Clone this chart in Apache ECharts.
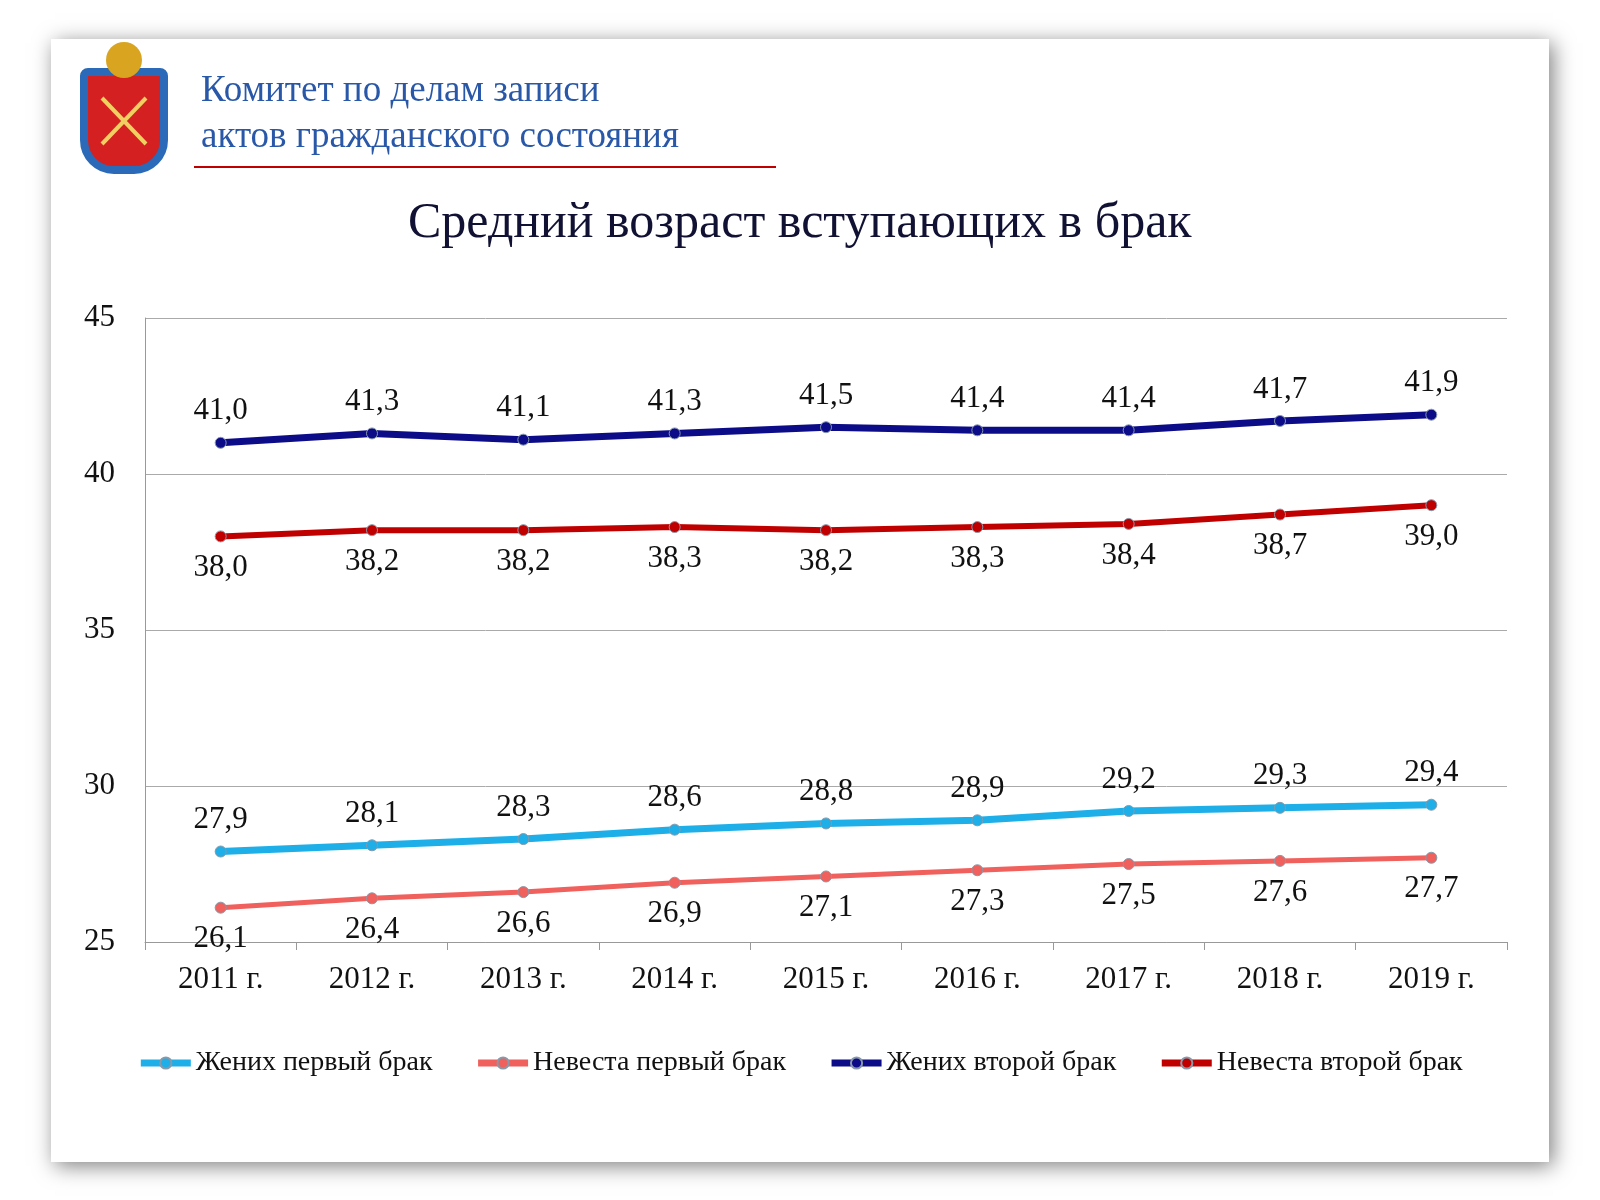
<!DOCTYPE html>
<html><head><meta charset="utf-8">
<script src="https://cdn.jsdelivr.net/npm/echarts@6/dist/echarts.min.js"></script>
<style>body{margin:0;background:#fff}#c{width:1600px;height:1200px}</style>
</head><body><div id="c"></div>
<script>
var years = ['2011 г.', '2012 г.', '2013 г.', '2014 г.', '2015 г.', '2016 г.', '2017 г.', '2018 г.', '2019 г.'];
var groom1 = [27.9, 28.1, 28.3, 28.6, 28.8, 28.9, 29.2, 29.3, 29.4];
var bride1 = [26.1, 26.4, 26.6, 26.9, 27.1, 27.3, 27.5, 27.6, 27.7];
var groom2 = [41.0, 41.3, 41.1, 41.3, 41.5, 41.4, 41.4, 41.7, 41.9];
var bride2 = [38.0, 38.2, 38.2, 38.3, 38.2, 38.3, 38.4, 38.7, 39.0];
var names = ['Жених первый брак', 'Невеста первый брак', 'Жених второй брак', 'Невеста второй брак'];

var serif = 'Liberation Serif';
function fmt(p) { return p.value.toFixed(1).replace('.', ','); }
function line(name, data, color, pos, width) {
	return {
		name: name, type: 'line', data: data, symbol: 'circle', symbolSize: 11,
		lineStyle: { color: color, width: width },
		itemStyle: { color: color, borderColor: '#8899aa', borderWidth: 1 },
		label: { show: true, position: pos, distance: 10, formatter: fmt,
			fontFamily: serif, fontSize: 31, color: '#111' }
	};
}

var myChart = echarts.init(document.getElementById('c'));
option = {
	animation: false,
	graphic: [
		{ type: 'rect', shape: { x: 51, y: 39, width: 1498, height: 1123 },
			style: { fill: '#fff', shadowBlur: 20, shadowColor: 'rgba(0,0,0,0.5)', shadowOffsetX: 4, shadowOffsetY: 4 }, z: -10 },
		{ type: 'rect', shape: { x: 84, y: 72, width: 80, height: 98, r: [4, 4, 30, 30] },
			style: { fill: '#d42020', stroke: '#2a6ab8', lineWidth: 8 } },
		{ type: 'circle', shape: { cx: 124, cy: 60, r: 18 }, style: { fill: '#d9a520' } },
		{ type: 'line', shape: { x1: 102, y1: 98, x2: 146, y2: 144 }, style: { stroke: '#f0d060', lineWidth: 4 } },
		{ type: 'line', shape: { x1: 146, y1: 98, x2: 102, y2: 144 }, style: { stroke: '#f0d060', lineWidth: 4 } },
		{ type: 'text', left: 201, top: 73, style: { text: 'Комитет по делам записи', font: '37px "Liberation Serif"', fill: '#2a58a8' } },
		{ type: 'text', left: 201, top: 119, style: { text: 'актов гражданского состояния', font: '37px "Liberation Serif"', fill: '#2a58a8' } },
		{ type: 'line', shape: { x1: 194, y1: 167, x2: 776, y2: 167 }, style: { stroke: '#c00000', lineWidth: 2 } },
		{ type: 'text', left: 408, top: 199, style: { text: 'Средний возраст вступающих в брак', font: '50px "Liberation Serif"', fill: '#111133' } }
	],
	color: ['#1eaee8', '#f0605c', '#0c0c88', '#c00000'],
	grid: { left: 145, right: 93, top: 318, bottom: 258 },
	legend: {
		top: 1044, left: 'center', itemWidth: 50, itemHeight: 14, itemGap: 42,
		textStyle: { fontFamily: serif, fontSize: 28, color: '#111' },
		data: names.map(function (n) { return { name: n, lineStyle: { width: 7 } }; })
	},
	xAxis: {
		type: 'category', data: years,
		axisLine: { lineStyle: { color: '#999' } },
		axisTick: { show: true, length: 8, lineStyle: { color: '#999' } },
		axisLabel: { fontFamily: serif, fontSize: 31, color: '#111', margin: 22 }
	},
	yAxis: {
		type: 'value', min: 25, max: 45, interval: 5,
		axisLine: { show: true, lineStyle: { color: '#999' } },
		splitLine: { lineStyle: { color: '#aaa' } },
		axisLabel: { fontFamily: serif, fontSize: 31, color: '#111', margin: 30 }
	},
	series: [
		line(names[0], groom1, '#1eaee8', 'top', 7),
		line(names[1], bride1, '#f0605c', 'bottom', 5),
		line(names[2], groom2, '#0c0c88', 'top', 7),
		line(names[3], bride2, '#c00000', 'bottom', 6)
	]
};
myChart.setOption(option);
</script></body></html>
